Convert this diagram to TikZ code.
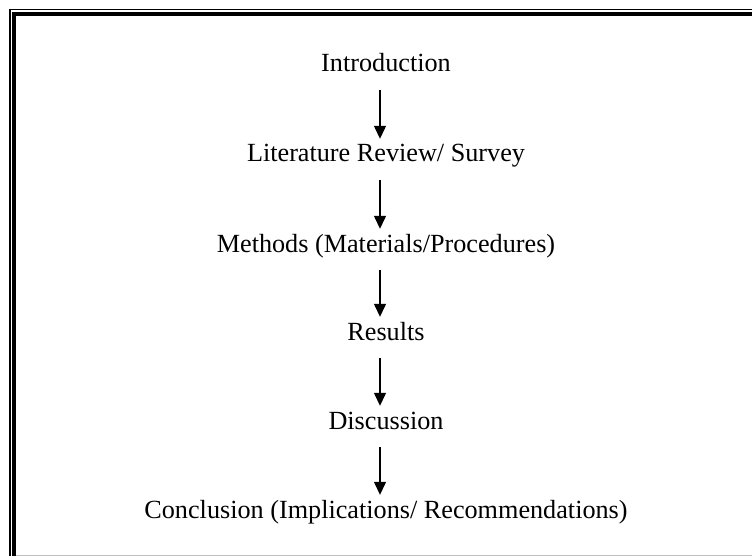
\documentclass[tikz,border=0pt]{standalone}
\usepackage{fontspec}
\setmainfont{Liberation Serif}
\usetikzlibrary{arrows.meta}
\begin{document}
\begin{tikzpicture}[x=1pt,y=-1pt,
	stage/.style={inner sep=0pt,text height=18pt,text depth=6pt,anchor=base,
		font=\fontsize{26.2}{30}\selectfont},
	flow/.style={-{Triangle[width=12pt,length=13pt]},line width=1.3pt,
		shorten <=12pt,shorten >=5pt}]

	\useasboundingbox (0,0) rectangle (752,556);
	\clip (0,0) rectangle (752,556);

	% frame
	\draw[line width=1.5pt] (9.75,600) |- (800,9.75);
	\draw[line width=4pt] (14,600) |- (800,14);
	\draw[black!25,line width=1pt] (16,555.5) -- (752,555.5);

	% stages
	\node[stage] (intro) at (386,72) {Introduction};
	\node[stage] (lit) at (386,162) {Literature Review/ Survey};
	\node[stage] (meth) at (386,252) {Methods (Materials/Procedures)};
	\node[stage] (res) at (386,340) {Results};
	\node[stage] (disc) at (386,429) {Discussion};
	\node[stage] (concl) at (386,518) {Conclusion (Implications/ Recommendations)};

	% arrows
	\draw[flow] ([xshift=-6pt]intro.south) -- ([xshift=-6pt]lit.north);
	\draw[flow] ([xshift=-6pt]lit.south) -- ([xshift=-6pt]meth.north);
	\draw[flow] ([xshift=-6pt]meth.south) -- ([xshift=-6pt]res.north);
	\draw[flow] ([xshift=-6pt]res.south) -- ([xshift=-6pt]disc.north);
	\draw[flow] ([xshift=-6pt]disc.south) -- ([xshift=-6pt]concl.north);

\end{tikzpicture}
\end{document}
